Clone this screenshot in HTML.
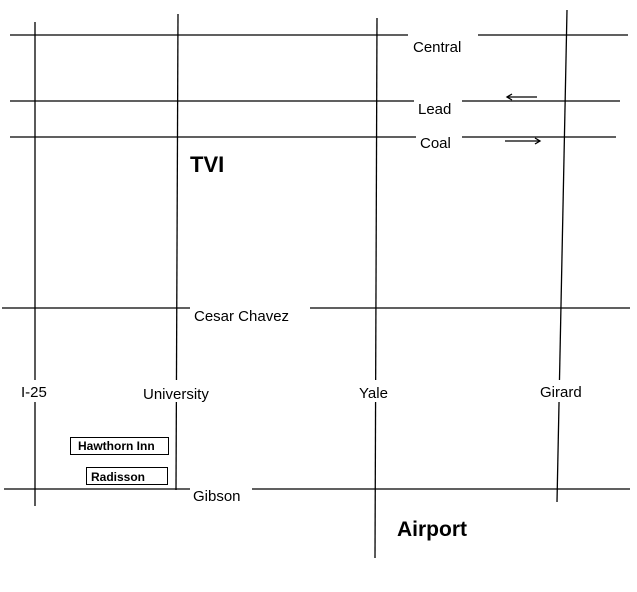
<!DOCTYPE html>
<html><head><meta charset="utf-8"><style>
html,body{margin:0;padding:0;background:#fff;}
svg{display:block;}
text{font-family:"Liberation Sans",Arial,sans-serif;font-size:15px;fill:#000;}
</style></head><body>
<svg width="637" height="592" viewBox="0 0 637 592" xmlns="http://www.w3.org/2000/svg">
<g stroke="#000" stroke-width="1.3" fill="none">
<!-- horizontals -->
<line x1="10" y1="35" x2="628" y2="35"/>
<line x1="10" y1="101" x2="620" y2="101"/>
<line x1="10" y1="137" x2="616" y2="137"/>
<line x1="2" y1="308" x2="630" y2="308"/>
<line x1="4" y1="489" x2="630" y2="489"/>
<!-- verticals -->
<line x1="35" y1="22" x2="35" y2="506"/>
<line x1="178" y1="14" x2="176" y2="490"/>
<line x1="377" y1="18" x2="375" y2="558"/>
<line x1="567" y1="10" x2="557" y2="502"/>
<!-- arrows -->
<line x1="507" y1="97" x2="537" y2="97"/>
<polyline points="512,94 507,97 512,100"/>
<line x1="505" y1="141" x2="540" y2="141"/>
<polyline points="535,138 540,141 535,144"/>
</g>
<g fill="#fff">
<rect x="408" y="28" width="70" height="30"/>
<rect x="414" y="95" width="48" height="25"/>
<rect x="416" y="130" width="46" height="25"/>
<rect x="190" y="300" width="120" height="30"/>
<rect x="18" y="380" width="38" height="22"/>
<rect x="140" y="380" width="82" height="22"/>
<rect x="356" y="380" width="42" height="22"/>
<rect x="536" y="380" width="56" height="22"/>
<rect x="190" y="482" width="62" height="24"/>
</g>
<text x="413" y="52">Central</text>
<text x="418" y="114">Lead</text>
<text x="420" y="148">Coal</text>
<text x="194" y="321">Cesar Chavez</text>
<text x="21" y="397">I-25</text>
<text x="143" y="399">University</text>
<text x="359" y="398">Yale</text>
<text x="540" y="397">Girard</text>
<text x="193" y="501">Gibson</text>
<text x="190" y="172" style="font-size:22px;font-weight:bold">TVI</text>
<text x="397" y="536" style="font-size:21px;font-weight:bold">Airport</text>
<rect x="70.5" y="437.5" width="98" height="17" fill="#fff" stroke="#000" stroke-width="1"/>
<text x="78" y="450" style="font-size:12px;font-weight:bold">Hawthorn Inn</text>
<rect x="86.5" y="467.5" width="81" height="17" fill="#fff" stroke="#000" stroke-width="1"/>
<text x="91" y="481" style="font-size:12px;font-weight:bold">Radisson</text>
</svg>
</body></html>
